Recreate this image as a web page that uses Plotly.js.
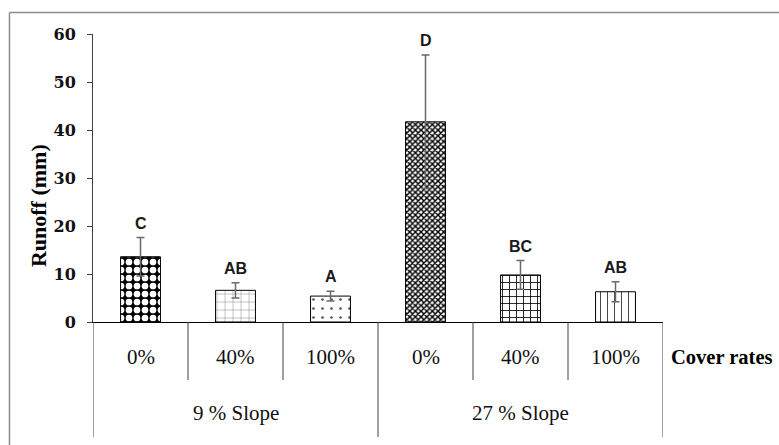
<!DOCTYPE html>
<html>
<head>
<meta charset="utf-8">
<script src="https://cdn.plot.ly/plotly-3.0.1.min.js"></script>
<style>html,body{margin:0;padding:0;background:#fff}#chart{width:779px;height:445px}</style>
</head>
<body>
<div id="chart"></div>
<script>
const groups = ["9 % Slope", "27 % Slope"];
const coverRates = ["0%", "40%", "100%", "0%", "40%", "100%"];
const groupOf = [0, 0, 0, 1, 1, 1];
const runoff = [13.6, 6.6, 5.4, 41.7, 9.8, 6.3];
const runoffErr = [4.0, 1.6, 1.0, 13.9, 3.0, 2.1];
const letters = ["C", "AB", "A", "D", "BC", "AB"];
const yTicks = [0, 10, 20, 30, 40, 50, 60];

const xs = coverRates.map((_, i) => i);
const serif = "Liberation Serif, Times New Roman, serif";

const patterns = [
  {shape: ".", fgcolor: "white", bgcolor: "black", size: 8, solidity: 0.55},
  {shape: "+", fgcolor: "#8a8a8a", bgcolor: "white", size: 8, solidity: 0.12},
  {shape: ".", fgcolor: "#555", bgcolor: "white", size: 9, solidity: 0.07},
  {shape: "x", fgcolor: "black", bgcolor: "white", size: 4, solidity: 0.6},
  {shape: "+", fgcolor: "black", bgcolor: "white", size: 7, solidity: 0.22},
  {shape: "|", fgcolor: "#444", bgcolor: "white", size: 7, solidity: 0.14}
];

const traces = xs.map((x, i) => ({
  type: "bar",
  x: [x],
  y: [runoff[i]],
  width: 0.42,
  error_y: {type: "data", array: [runoffErr[i]], visible: true, color: "#6a6a6a", thickness: 1.5, width: 4},
  marker: {
    color: patterns[i].bgcolor,
    line: {color: "black", width: 1},
    pattern: Object.assign({fillmode: "replace"}, patterns[i])
  },
  hoverinfo: "skip"
}));

const annotations = [];
xs.forEach((x, i) => {
  annotations.push({
    x: x, y: runoff[i] + runoffErr[i], xref: "x", yref: "y",
    text: letters[i], showarrow: false, yanchor: "bottom", yshift: 4,
    font: {family: "Liberation Sans, Arial, sans-serif", size: 16, color: "#1a1a1a", weight: "bold"}
  });
  annotations.push({
    x: x, y: -0.1215, xref: "x", yref: "paper",
    text: coverRates[i], showarrow: false, yanchor: "middle",
    font: {family: serif, size: 21, color: "#111"}
  });
});
groups.forEach((g, gi) => {
  const members = xs.filter((_, i) => groupOf[i] === gi);
  const mid = (members[0] + members[members.length - 1]) / 2;
  annotations.push({
    x: mid, y: -0.316, xref: "x", yref: "paper",
    text: g, showarrow: false, yanchor: "middle",
    font: {family: serif, size: 21, color: "#111"}
  });
});
annotations.push({
  x: 1.01, y: -0.1215, xref: "paper", yref: "paper", xanchor: "left", yanchor: "middle",
  text: "<b>Cover rates</b>", showarrow: false,
  font: {family: serif, size: 20.5, color: "#000"}
});
annotations.push({
  x: -0.0965, y: 0.406, xref: "paper", yref: "paper", xanchor: "center", yanchor: "middle",
  text: "<b>Runoff (mm)</b>", textangle: -90, showarrow: false,
  font: {family: serif, size: 22, color: "#000"}
});

const shapes = [];
for (let b = 0; b <= xs.length; b++) {
  const bx = b - 0.5;
  const isGroupEdge = b === 0 || b === xs.length || groupOf[b] !== groupOf[b - 1];
  shapes.push({
    type: "line", xref: "x", yref: "paper", x0: bx, x1: bx, y0: 0, y1: isGroupEdge ? -0.399 : -0.2014,
    line: {color: "#404040", width: 1}
  });
}
shapes.push({type: "line", xref: "paper", yref: "paper", x0: -0.1465, x1: 1.21, y0: 1.0747, y1: 1.0747, line: {color: "#8c8c8c", width: 1.5}});
shapes.push({type: "line", xref: "paper", yref: "paper", x0: -0.1465, x1: -0.1465, y0: 1.0747, y1: -0.45, line: {color: "#8c8c8c", width: 1.5}});

const layout = {
  width: 779, height: 445,
  margin: {l: 93, r: 116, t: 34, b: 123},
  paper_bgcolor: "white", plot_bgcolor: "white",
  showlegend: false,
  barmode: "overlay",
  xaxis: {
    range: [-0.5, xs.length - 0.5], showticklabels: false, ticks: "", showgrid: false, zeroline: false,
    showline: true, linecolor: "#000", linewidth: 1, fixedrange: true
  },
  yaxis: {
    range: [0, 60], tickvals: yTicks, ticktext: yTicks.map(String), ticks: "outside", ticklen: 5, tickcolor: "#404040",
    showgrid: false, zeroline: false, showline: true, linecolor: "#404040", linewidth: 1,
    ticklabelstandoff: 8,
    tickfont: {family: "DejaVu Serif, serif", size: 16, color: "#111", weight: "bold"}, fixedrange: true
  },
  annotations: annotations,
  shapes: shapes
};

Plotly.newPlot("chart", traces, layout, {displayModeBar: false, staticPlot: true});
</script>
</body>
</html>
